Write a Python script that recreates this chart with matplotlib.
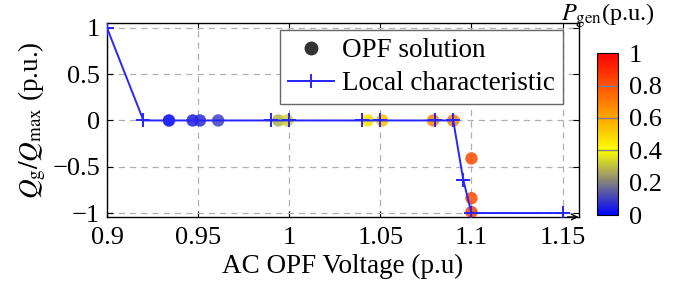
import numpy as np
import matplotlib
matplotlib.use("Agg")
import matplotlib.pyplot as plt
from matplotlib.colors import LinearSegmentedColormap
from matplotlib.lines import Line2D

plt.rcParams['font.family'] = ['Liberation Serif', 'DejaVu Serif']
plt.rcParams['mathtext.fontset'] = 'stix'

# Data
opf_v = [0.934, 0.947, 0.951, 0.961, 0.994, 0.999, 1.043, 1.051, 1.079, 1.090, 1.100, 1.100, 1.100]
opf_q = [0, 0, 0, 0, 0, 0, 0, 0, 0, 0, -0.41, -0.84, -0.99]
opf_p = [0.0, 0.05, 0.07, 0.1, 0.28, 0.33, 0.47, 0.55, 0.68, 0.7, 0.82, 0.82, 0.85]

char_v = [0.9, 0.92, 0.99, 1.0, 1.04, 1.05, 1.08, 1.09, 1.0955, 1.1, 1.15]
char_q = [1, 0, 0, 0, 0, 0, 0, 0, -0.64, -1, -1]

xticks = [0.9, 0.95, 1.0, 1.05, 1.1, 1.15]
xticklabels = ['0.9', '0.95', '1', '1.05', '1.1', '1.15']
yticks = [-1, -0.5, 0, 0.5, 1]
yticklabels = ['\u22121', '\u22120.5', '0', '0.5', '1']
cticks = [0, 0.2, 0.4, 0.6, 0.8, 1]
cticklabels = ['0', '0.2', '0.4', '0.6', '0.8', '1']

cmap = LinearSegmentedColormap.from_list(
    'pg', [(0.0, (0, 0, 1)), (0.2, (0.5, 0.5, 0.5)), (0.4, (1, 1, 0)),
           (0.6, (1, 0.65, 0)), (1.0, (1, 0, 0))])

fig = plt.figure(figsize=(6.89, 2.85), dpi=100)
ax = fig.add_axes([0.1553, 0.2386, 0.685, 0.681])

sc = ax.scatter(opf_v, opf_q, c=opf_p, cmap=cmap, vmin=0, vmax=1, s=80,
                alpha=0.85, linewidths=0, zorder=3)
ax.plot(char_v, char_q, color=(0.15, 0.15, 1), lw=1.4, marker='+', ms=10,
        mew=1.4, zorder=4)

ax.set_xlim(0.9, 1.159)
ax.set_ylim(-1.043, 1.054)
ax.set_xticks(xticks)
ax.set_xticklabels(xticklabels)
ax.set_yticks(yticks)
ax.set_yticklabels(yticklabels)
ax.tick_params(direction='in', top=True, right=True, labelsize=19, length=4)
ax.tick_params(axis='x', pad=7)
ax.tick_params(axis='y', pad=5)
ax.grid(True, color='#b0b0b0', ls=(0, (5, 4)), lw=0.9)
ax.set_axisbelow(True)
for s in ax.spines.values():
    s.set_linewidth(1.0)

ax.set_xlabel('AC OPF Voltage (p.u)', fontsize=19.5, labelpad=4)
ax.set_ylabel(r'$Q_{\rm g}/Q_{\max}$ (p.u.)', fontsize=19.5, labelpad=3)

ax.annotate('', xy=(1.005, 0), xytext=(0.97, 0), xycoords='axes fraction',
            arrowprops=dict(arrowstyle='->', lw=1.0, color='black'),
            annotation_clip=False)

handles = [Line2D([], [], ls='none', marker='o', ms=9, color='#333333'),
           Line2D([], [], color=(0.15, 0.15, 1), lw=1.4, marker='+', ms=10, mew=1.4)]
leg = ax.legend(handles, ['OPF solution', 'Local characteristic'],
                loc='upper right', bbox_to_anchor=(0.966, 0.964), fontsize=19.5,
                frameon=True, fancybox=False, edgecolor='#666666', framealpha=1,
                handlelength=1.7, borderpad=0.3, labelspacing=0.3, handletextpad=0.3,
                borderaxespad=0)
leg.get_frame().set_linewidth(1.0)

cax = fig.add_axes([0.8665, 0.2456, 0.0305, 0.568])
cb = fig.colorbar(sc, cax=cax)
cb.solids.set_alpha(1)
cb.set_ticks(cticks)
cb.set_ticklabels(cticklabels)
cax.tick_params(labelsize=19, length=0, pad=8)
for t in cticks[1:-1]:
    cax.axhline(t, color='gray', lw=1.0)
cb.outline.set_linewidth(0.8)
fig.text(0.882, 0.945, r'$P_{\rm gen}$(p.u.)', fontsize=17.5, ha='center', va='center')

fig.savefig('out.png', dpi=100)
